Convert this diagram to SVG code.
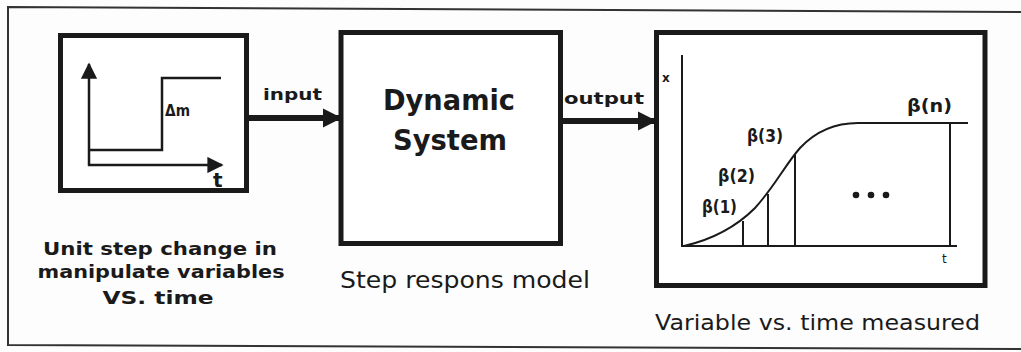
<svg xmlns="http://www.w3.org/2000/svg" width="1021" height="352" viewBox="0 0 1021 352">
  <defs>
    <style>
      .frame { fill: none; stroke: #333; stroke-width: 2; }
      .box { fill: #fff; stroke: #1a1a1a; stroke-width: 5; }
      .ln { fill: none; stroke: #1a1a1a; stroke-width: 2.5; }
      .thin { fill: none; stroke: #1a1a1a; stroke-width: 2; }
      .flow { fill: none; stroke: #1a1a1a; stroke-width: 6; }
      .bold { font-family: "DejaVu Sans", "Liberation Sans", sans-serif; font-weight: bold; fill: #1a1a1a; }
      .reg { font-family: "DejaVu Sans", "Liberation Sans", sans-serif; fill: #1a1a1a; }
    </style>
    <marker id="bigHead" viewBox="0 0 10 10" refX="9" refY="5" markerWidth="3.2" markerHeight="3.4" orient="auto" markerUnits="strokeWidth">
      <path d="M0,0 L10,5 L0,10 Z" fill="#1a1a1a"/>
    </marker>
    <marker id="axisHead" viewBox="0 0 10 10" refX="9" refY="5" markerWidth="6.5" markerHeight="6.5" orient="auto" markerUnits="strokeWidth">
      <path d="M0,0 L10,5 L0,10 Z" fill="#1a1a1a"/>
    </marker>
  </defs>

  <rect x="0" y="0" width="1021" height="352" fill="#fdfdfd"/>

  <!-- outer border -->
  <path class="frame" d="M1021,12 L8,7 L8,345 L1021,349"/>

  <!-- step input plot -->
  <g id="step-input">
    <rect class="box" x="60.5" y="35.5" width="186" height="155"/>
    <line class="ln" x1="89" y1="166" x2="89" y2="64" marker-end="url(#axisHead)"/>
    <line class="ln" x1="88" y1="165" x2="222" y2="165" marker-end="url(#axisHead)"/>
    <polyline class="ln" points="89,150 162,150 162,78 221,78"/>
    <text class="bold" x="165" y="116" font-size="16" textLength="25" lengthAdjust="spacingAndGlyphs">Δm</text>
    <text class="bold" x="213" y="187" font-size="20">t</text>
    <g class="bold" font-size="17" text-anchor="middle">
      <text x="160" y="255" textLength="234" lengthAdjust="spacingAndGlyphs">Unit step change in</text>
      <text x="161" y="278" textLength="247" lengthAdjust="spacingAndGlyphs">manipulate variables</text>
      <text x="158" y="304" textLength="111" lengthAdjust="spacingAndGlyphs">VS. time</text>
    </g>
  </g>

  <!-- system block -->
  <g id="dynamic-system">
    <rect class="box" x="341" y="32.5" width="219.5" height="211"/>
    <text class="bold" x="449" y="110" font-size="29" text-anchor="middle" textLength="132" lengthAdjust="spacingAndGlyphs">Dynamic</text>
    <text class="bold" x="450" y="150" font-size="29" text-anchor="middle" textLength="114" lengthAdjust="spacingAndGlyphs">System</text>
    <text class="reg" x="340" y="288" font-size="23" textLength="250" lengthAdjust="spacingAndGlyphs">Step respons model</text>
  </g>

  <!-- measured response plot -->
  <g id="response">
    <rect class="box" x="656.5" y="32.5" width="328.5" height="253"/>
    <line class="thin" x1="682" y1="55" x2="682" y2="247"/>
    <line class="thin" x1="681" y1="246" x2="957" y2="246"/>
    <path class="thin" d="M684,246 C710,240 735,228 755,208 C775,186 785,165 800,148 C815,132 835,123 858,123 L968,123"/>
    <line class="thin" x1="743" y1="221" x2="743" y2="246"/>
    <line class="thin" x1="768" y1="194" x2="768" y2="246"/>
    <line class="thin" x1="795" y1="155" x2="795" y2="246"/>
    <line class="thin" x1="950" y1="123" x2="950" y2="246"/>
    <text class="bold" x="662" y="82" font-size="12">x</text>
    <text class="reg" x="942" y="263" font-size="12">t</text>
    <g class="bold" font-size="18">
      <text x="702" y="213" textLength="35" lengthAdjust="spacingAndGlyphs">β(1)</text>
      <text x="718" y="182" textLength="37" lengthAdjust="spacingAndGlyphs">β(2)</text>
      <text x="747" y="142" textLength="36" lengthAdjust="spacingAndGlyphs">β(3)</text>
      <text x="907" y="112" textLength="45" lengthAdjust="spacingAndGlyphs">β(n)</text>
    </g>
    <g fill="#1a1a1a">
      <circle cx="856" cy="195" r="3.3"/>
      <circle cx="871" cy="195" r="3.3"/>
      <circle cx="886" cy="195" r="3.3"/>
    </g>
    <text class="reg" x="655" y="330" font-size="21" textLength="325" lengthAdjust="spacingAndGlyphs">Variable vs. time measured</text>
  </g>

  <!-- signal connectors -->
  <g id="connectors">
    <line class="flow" x1="248" y1="118" x2="340" y2="118" marker-end="url(#bigHead)"/>
    <text class="bold" x="263" y="100" font-size="15" textLength="59" lengthAdjust="spacingAndGlyphs">input</text>
    <line class="flow" x1="562" y1="121" x2="655" y2="121" marker-end="url(#bigHead)"/>
    <text class="bold" x="564" y="104" font-size="15" textLength="80" lengthAdjust="spacingAndGlyphs">output</text>
  </g>
</svg>
